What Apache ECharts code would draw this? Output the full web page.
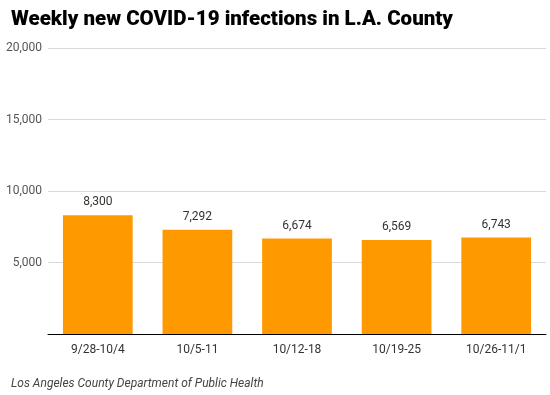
<!DOCTYPE html>
<html><head><meta charset="utf-8">
<script src="https://cdn.jsdelivr.net/npm/echarts@6/dist/echarts.min.js"></script>
<style>html,body{margin:0;padding:0;background:#fff}#c{width:550px;height:395px}</style>
</head><body><div id="c"></div>
<script>
const categories = ['9/28-10/4','10/5-11','10/12-18','10/19-25','10/26-11/1'];
const infections = [8300, 7292, 6674, 6569, 6743];
const yTicks = [0, 5000, 10000, 15000, 20000];

const chart = echarts.init(document.getElementById('c'));
const fmt = v => v.toLocaleString('en-US');
chart.setOption({
  animation: false,
  textStyle: {fontFamily: 'Roboto'},
  title: [{
    text: 'Weekly new COVID-19 infections in L.A. County',
    left: 6, top: 4,
    textStyle: {fontFamily: 'Roboto', fontWeight: 900, fontSize: 20.5, color: '#000'}
  }, {
    text: 'Los Angeles County Department of Public Health',
    left: 6, top: 373,
    textStyle: {fontFamily: 'Roboto', fontStyle: 'italic', fontWeight: 'normal', fontSize: 12, color: '#444'}
  }],
  grid: {left: 48, right: 4, top: 48, bottom: 61},
  xAxis: {
    type: 'category', data: categories,
    axisLine: {lineStyle: {color: '#000', width: 1}},
    axisTick: {show: false},
    axisLabel: {color: '#333', fontSize: 12, margin: 10}
  },
  yAxis: {
    type: 'value', min: yTicks[0], max: yTicks[yTicks.length-1], interval: 5000,
    axisLine: {show: false}, axisTick: {show: false},
    splitLine: {lineStyle: {color: '#d9d9d9'}},
    axisLabel: {color: '#555', fontSize: 12, margin: 6,
      formatter: v => v === 0 ? '' : fmt(v)}
  },
  series: [{
    type: 'bar', data: infections, barCategoryGap: '30%',
    itemStyle: {color: '#FF9900'},
    label: {show: true, position: 'top', distance: 7, color: '#333', fontSize: 12,
      formatter: p => fmt(p.value)}
  }]
});
</script></body></html>
